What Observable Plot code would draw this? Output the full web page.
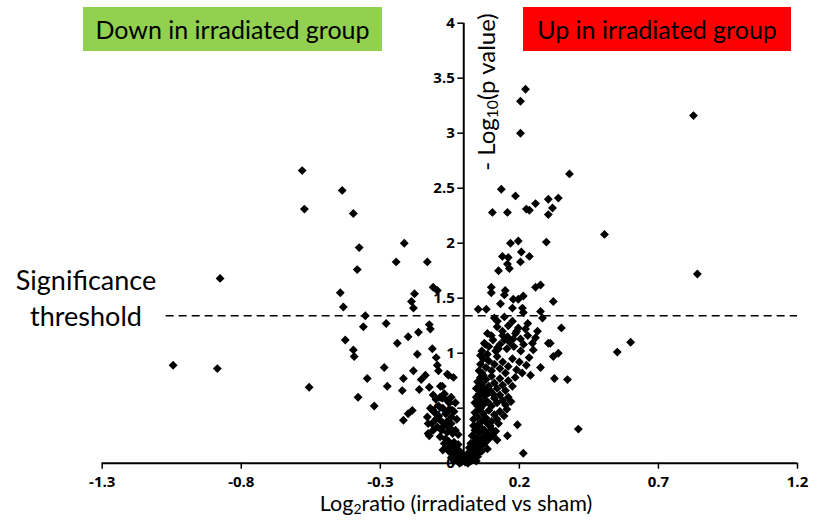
<!DOCTYPE html>
<html><head><meta charset="utf-8">
<script src="https://cdn.jsdelivr.net/npm/d3@7"></script>
<script src="https://cdn.jsdelivr.net/npm/@observablehq/plot@0.6"></script>
<style>
body{margin:0;background:#fff;font-family:Lato,"Open Sans",sans-serif;color:#000;}
#wrap{position:relative;width:815px;height:521px;overflow:hidden;}
#wrap svg{position:absolute;left:0;top:0;}
.box{position:absolute;top:7px;height:44px;display:flex;align-items:center;justify-content:center;font-size:25px;white-space:nowrap;}
#down{left:83px;width:299px;background:#92D050;}
#up{left:523px;width:268px;background:#FF0000;}
#sig{position:absolute;left:0;width:172px;top:262px;text-align:center;font-size:27px;line-height:36px;}
#ylab{position:absolute;left:485px;top:92px;transform:translate(-50%,-50%) rotate(-90deg);font-size:24px;white-space:nowrap;}
#xlab{position:absolute;left:456px;top:490px;transform:translateX(-50%);font-size:21.5px;white-space:nowrap;}
sub{font-size:0.65em;vertical-align:-0.25em;line-height:0;}
</style></head>
<body><div id="wrap">
<div class="box" id="down">Down in irradiated group</div>
<div class="box" id="up">Up in irradiated group</div>
<div id="sig">Significance<br>threshold</div>
<div id="ylab">- Log<sub>10</sub>(p value)</div>
<div id="xlab">Log<sub>2</sub>ratio (irradiated vs sham)</div>
</div>
<script>
const xTicks = [-1.3, -0.8, -0.3, 0.2, 0.7, 1.2];
const yTicks = [0, 0.5, 1, 1.5, 2, 2.5, 3, 3.5, 4];
const threshold = 1.34;
const thresholdFrom = -1.07;

// [log2 ratio, -log10 p]
const leftSparse = [
[-1.045,0.89],[-0.886,0.86],[-0.876,1.68],[-0.556,0.69],[-0.581,2.66],[-0.573,2.31],[-0.437,2.48],[-0.397,2.27],[-0.376,1.96],[-0.444,1.55],[-0.433,1.42],[-0.383,1.76],[-0.354,1.34],[-0.243,1.83],[-0.214,2.0],[-0.131,1.83],[-0.11,1.6],[-0.095,1.57],[-0.177,1.54],[-0.188,1.47],[-0.181,1.41],
[-0.361,1.24],[-0.279,1.27],[-0.426,1.12],[-0.397,1.03],[-0.394,0.97],[-0.347,0.77],[-0.38,0.6],[-0.322,0.52],[-0.286,0.87],[-0.275,0.7],[-0.239,1.09],[-0.2,1.15],[-0.163,1.19],[-0.124,1.26],[-0.12,1.22],[-0.167,0.99],[-0.113,1.04],[-0.099,0.96],[-0.181,0.84],[-0.217,0.77],[-0.221,0.66],[-0.16,0.67],[-0.153,0.76],[-0.138,0.8],[-0.124,0.69],[-0.095,0.89],[-0.091,0.84],[-0.077,0.7],[-0.059,0.81],[-0.037,0.78],[-0.217,0.39],[-0.2,0.45],[-0.185,0.48],[-0.124,0.25],[-0.131,0.42]
];
const leftCluster = [
[-0.11,0.62],[-0.1,0.58],[-0.085,0.6],[-0.07,0.63],[-0.06,0.57],[-0.045,0.6],[-0.03,0.55],[-0.09,0.52],
[-0.12,0.5],[-0.105,0.46],[-0.09,0.43],[-0.075,0.5],[-0.065,0.45],[-0.055,0.48],[-0.045,0.42],[-0.035,0.47],[-0.025,0.4],[-0.08,0.38],[-0.1,0.4],[-0.115,0.36],[-0.06,0.38],
[-0.095,0.33],[-0.08,0.3],[-0.07,0.34],[-0.06,0.28],[-0.05,0.32],[-0.04,0.27],[-0.03,0.3],[-0.02,0.26],[-0.085,0.24],[-0.065,0.22],[-0.11,0.3],[-0.045,0.36],
[-0.07,0.18],[-0.055,0.2],[-0.045,0.15],[-0.035,0.19],[-0.03,0.13],[-0.02,0.17],[-0.015,0.11],[-0.06,0.13],[-0.05,0.1],[-0.04,0.08],[-0.025,0.07],[-0.01,0.09],[-0.075,0.12],
[-0.03,0.04],[-0.02,0.02],[-0.012,0.05],[-0.008,0.01],[-0.004,0.03],[-0.015,0.0],[-0.035,0.02],[-0.045,0.05],[-0.005,0.06],
[-0.128,0.27],[-0.128,0.36],[-0.11,0.48],[-0.077,0.59],[-0.052,0.55],[-0.041,0.48],[-0.055,0.8],[-0.084,0.7],[-0.07,0.63]
];
const rightSparse = [
[0.222,3.40],[0.204,3.29],[0.204,3.0],[0.38,2.63],[0.135,2.49],[0.186,2.43],[0.103,2.28],[0.157,2.28],[0.225,2.31],[0.236,2.3],[0.258,2.36],[0.304,2.4],[0.34,2.41],[0.319,2.32],[0.304,2.26],
[0.826,3.16],[0.506,2.08],[0.84,1.72],
[0.168,2.0],[0.196,2.02],[0.297,2.01],[0.207,1.92],[0.139,1.88],[0.16,1.87],[0.236,1.88],[0.204,1.83],[0.157,1.81],[0.125,1.75],[0.164,1.77],
[0.099,1.6],[0.099,1.55],[0.149,1.57],[0.146,1.53],[0.258,1.6],[0.276,1.62],[0.322,1.47],[0.052,1.40],[0.081,1.40],[0.132,1.45],[0.178,1.49],[0.196,1.49],[0.214,1.52],[0.175,1.41],[0.211,1.41],[0.214,1.37],[0.146,1.33],[0.11,1.32],[0.121,1.29],[0.276,1.38],[0.283,1.32],[0.351,1.23],[0.175,1.29],
[0.139,1.2],[0.099,1.16],[0.074,1.09],[0.121,1.05],[0.146,1.12],[0.186,1.18],[0.196,1.23],[0.222,1.22],[0.178,1.13],[0.204,1.13],[0.247,1.09],[0.258,1.14],[0.304,1.09],[0.157,1.15],
[0.078,1.08],[0.125,1.04],[0.06,0.98],[0.311,1.09],[0.322,0.97],[0.34,1.0],[0.276,0.87],[0.326,0.77],[0.373,0.76],[0.412,0.31],[0.193,0.35],[0.157,0.25],[0.214,0.09],[0.552,1.01],[0.6,1.1]
];
const rightCluster = [
[0.005,0.01],[0.01,0.03],[0.015,0.0],[0.02,0.05],[0.025,0.02],[0.03,0.07],[0.035,0.04],[0.012,0.08],[0.04,0.09],[0.045,0.02],[0.008,0.06],[0.02,0.1],[0.05,0.06],
[0.02,0.14],[0.03,0.12],[0.035,0.17],[0.045,0.13],[0.05,0.19],[0.06,0.15],[0.065,0.11],[0.075,0.18],[0.085,0.13],[0.04,0.2],[0.025,0.18],[0.055,0.1],
[0.03,0.25],[0.04,0.3],[0.045,0.23],[0.055,0.28],[0.06,0.33],[0.07,0.24],[0.075,0.3],[0.085,0.27],[0.09,0.22],[0.1,0.31],[0.105,0.25],[0.115,0.29],[0.035,0.34],[0.065,0.21],[0.095,0.34],[0.05,0.35],[0.12,0.21],
[0.035,0.4],[0.04,0.46],[0.05,0.42],[0.055,0.49],[0.065,0.38],[0.07,0.45],[0.08,0.41],[0.09,0.48],[0.1,0.38],[0.11,0.44],[0.12,0.4],[0.13,0.47],[0.145,0.43],[0.06,0.5],[0.085,0.36],[0.125,0.36],[0.155,0.49],
[0.04,0.55],[0.045,0.6],[0.05,0.52],[0.055,0.63],[0.06,0.57],[0.07,0.53],[0.075,0.61],[0.085,0.56],[0.09,0.64],[0.1,0.52],[0.11,0.59],[0.12,0.55],[0.13,0.62],[0.14,0.57],[0.15,0.53],[0.16,0.6],[0.17,0.56],[0.065,0.65],[0.105,0.63],
[0.045,0.68],[0.05,0.74],[0.055,0.7],[0.06,0.78],[0.065,0.72],[0.075,0.67],[0.08,0.76],[0.09,0.7],[0.1,0.79],[0.11,0.73],[0.12,0.68],[0.13,0.77],[0.14,0.71],[0.15,0.66],[0.16,0.75],[0.175,0.7],[0.185,0.78],[0.07,0.8],[0.095,0.66],
[0.055,0.84],[0.06,0.9],[0.065,0.82],[0.07,0.95],[0.08,0.87],[0.09,0.93],[0.1,0.84],[0.11,0.9],[0.12,0.97],[0.13,0.86],[0.14,0.92],[0.15,0.82],[0.16,0.88],[0.175,0.95],[0.19,0.85],[0.2,0.92],[0.21,0.82],[0.225,0.89],[0.24,0.8],[0.235,0.96],[0.085,0.99],
[0.065,1.02],[0.09,1.06],[0.105,1.12],[0.115,1.02],[0.13,1.08],[0.14,1.16],[0.155,1.04],[0.165,1.1],[0.18,1.06],[0.19,1.2],[0.205,1.02],[0.215,1.08],[0.23,1.16],[0.25,1.03],[0.265,1.2],[0.12,1.24],[0.16,1.25],[0.085,1.18],[0.23,1.27]
];

const points = [...leftSparse, ...leftCluster, ...rightSparse, ...rightCluster]
  .map(([log2ratio, negLogP]) => ({log2ratio, negLogP}));

const tickFont = "'Open Sans', 'DejaVu Sans', sans-serif";

const chart = Plot.plot({
  width: 815, height: 521,
  marginLeft: 101.7, marginRight: 18, marginTop: 22.7, marginBottom: 58.3,
  x: {domain: [-1.3, 1.2]},
  y: {domain: [0, 4]},
  style: {fontFamily: "Lato, 'Open Sans', sans-serif", color: "#000", background: "transparent", overflow: "visible"},
  marks: [
    Plot.axisX(xTicks, {tickSize: 6, fill: "none", label: null, strokeWidth: 1.5}),
    Plot.text(xTicks, {x: d => d, frameAnchor: "bottom", dy: 24, text: d => String(d), fontSize: 15, fontWeight: 700, fontFamily: tickFont, fill: "#000"}),
    Plot.axisY(yTicks, {x: 0, anchor: "left", tickSize: 6, fill: "none", label: null, strokeWidth: 1.5}),
    Plot.text(yTicks, {x: 0, y: d => d, dx: -9, textAnchor: "end", text: d => String(d), fontSize: 15, fontWeight: 700, fontFamily: tickFont, fill: "#000"}),
    Plot.ruleY([0], {strokeWidth: 2}),
    Plot.ruleX([0], {y1: 0, y2: 4, strokeWidth: 2}),
    Plot.ruleY([threshold], {x1: thresholdFrom, x2: 1.2, strokeDasharray: "8,5", strokeWidth: 1.6}),
    Plot.dot(points, {x: "log2ratio", y: "negLogP", symbol: "diamond2", r: 4, fill: "#000", stroke: null})
  ]
});
document.getElementById("wrap").prepend(chart);
</script>
</body></html>
